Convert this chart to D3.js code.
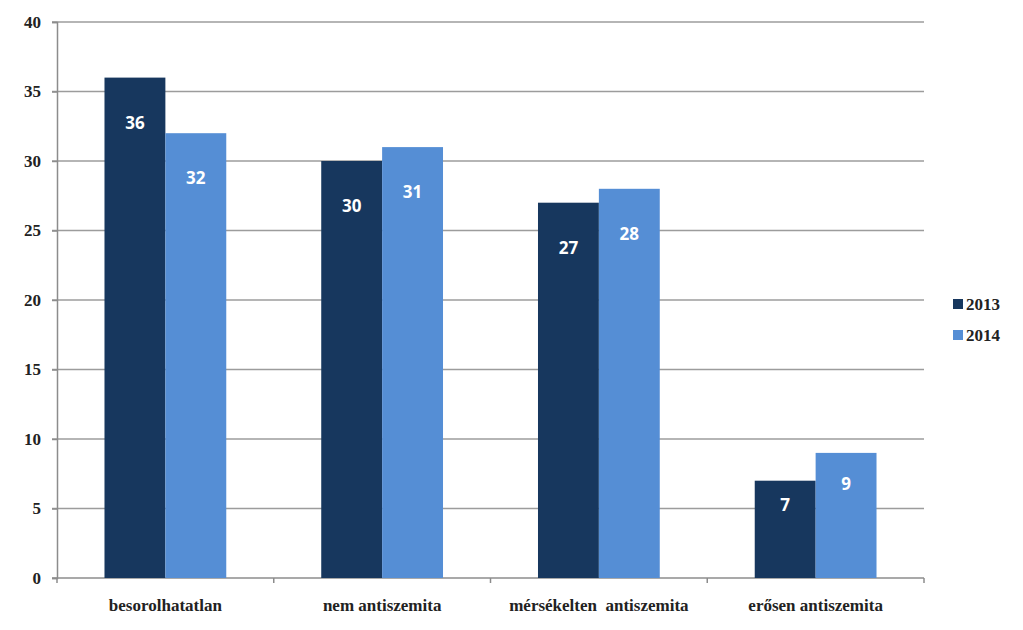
<!DOCTYPE html>
<html><head><meta charset="utf-8">
<script src="https://cdn.jsdelivr.net/npm/d3@7"></script>
<style>body{margin:0;background:#fff}</style>
</head><body>
<script>
const categories = ["besorolhatatlan", "nem antiszemita", "mérsékelten  antiszemita", "erősen antiszemita"];
const seriesNames = ["2013", "2014"];
const values2013 = [36, 30, 27, 7];
const values2014 = [32, 31, 28, 9];
const yTicks = [0, 5, 10, 15, 20, 25, 30, 35, 40];
const colors = ["#17375E", "#558ED5"];

const W = 1023, H = 630;
const svg = d3.select("body").append("svg").attr("width", W).attr("height", H);
const m = {left: 57, right: 924, top: 22, bottom: 578};

const x = d3.scaleBand().domain(categories).range([m.left, m.right]).paddingInner(0).paddingOuter(0);
const y = d3.scaleLinear().domain([0, 40]).range([m.bottom, m.top]);
const xs = d3.scaleBand().domain(seriesNames).range([0, x.bandwidth()]).paddingOuter(0.78).paddingInner(0);

const serifFont = "'Liberation Serif', 'DejaVu Serif', serif";

// gridlines
svg.append("g").selectAll("line").data(yTicks.filter(d => d > 0)).join("line")
  .attr("x1", m.left - 5).attr("x2", m.right)
  .attr("y1", d => y(d)).attr("y2", d => y(d))
  .attr("stroke", "#9c9c9c").attr("stroke-width", 1.5);

// y axis
const yAxis = svg.append("g").attr("transform", `translate(${m.left},0)`)
  .call(d3.axisLeft(y).tickValues(yTicks).tickSize(5).tickPadding(11));
yAxis.select(".domain").attr("stroke", "#8c8c8c").attr("stroke-width", 1.5);
yAxis.selectAll(".tick line").attr("stroke", "#8c8c8c").attr("stroke-width", 1.5);
yAxis.selectAll("text").attr("font-family", serifFont).attr("font-weight", "bold")
  .attr("font-size", 17).attr("fill", "#222");

// x axis
const xAxis = svg.append("g").attr("transform", `translate(0,${m.bottom})`)
  .call(d3.axisBottom(x).tickSize(0).tickPadding(21));
xAxis.select(".domain").remove();
svg.append("line").attr("x1", m.left - 5).attr("x2", m.right).attr("y1", y(0)).attr("y2", y(0))
  .attr("stroke", "#8c8c8c").attr("stroke-width", 1.5);
const bounds = categories.map(c => x(c)).concat([x(categories[categories.length - 1]) + x.bandwidth()]);
svg.append("g").selectAll("line").data(bounds).join("line")
  .attr("x1", d => d).attr("x2", d => d).attr("y1", y(0)).attr("y2", y(0) + 5)
  .attr("stroke", "#8c8c8c").attr("stroke-width", 1.5);
xAxis.selectAll("text").attr("font-family", serifFont).attr("font-weight", "bold")
  .attr("font-size", 17).attr("fill", "#222").style("white-space", "pre");

// bars
const data = [];
categories.forEach((c, i) => {
  data.push({c, s: "2013", v: values2013[i], color: colors[0]});
  data.push({c, s: "2014", v: values2014[i], color: colors[1]});
});
const bars = svg.append("g");
bars.selectAll("rect").data(data).join("rect")
  .attr("x", d => x(d.c) + xs(d.s))
  .attr("width", xs.bandwidth())
  .attr("y", d => y(d.v))
  .attr("height", d => y(0) - y(d.v))
  .attr("fill", d => d.color);
bars.selectAll("text").data(data).join("text")
  .attr("x", d => x(d.c) + xs(d.s) + xs.bandwidth() / 2)
  .attr("y", d => { const h = y(0) - y(d.v); return y(d.v) + Math.min(45, h * 0.25); })
  .attr("dy", "0.36em")
  .attr("text-anchor", "middle")
  .attr("font-family", "'Open Sans', 'DejaVu Sans', sans-serif")
  .attr("font-weight", "bold").attr("font-size", 17).attr("fill", "#fff")
  .text(d => d.v);

// legend
const lg = svg.append("g");
seriesNames.forEach((s, i) => {
  const ly = 304 + i * 31;
  lg.append("rect").attr("x", 953).attr("y", ly - 5).attr("width", 10).attr("height", 10).attr("fill", colors[i]);
  lg.append("text").attr("x", 966).attr("y", ly).attr("dy", "0.35em")
    .attr("font-family", serifFont).attr("font-weight", "bold").attr("font-size", 17).attr("fill", "#222")
    .text(s);
});
</script>
</body></html>
